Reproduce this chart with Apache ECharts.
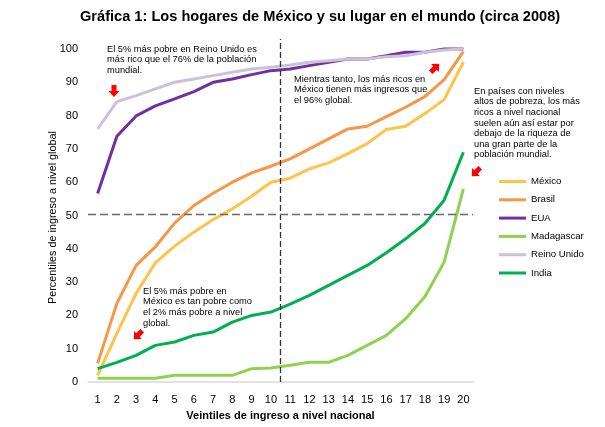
<!DOCTYPE html>
<html>
	<head>
		<meta charset="utf-8">
		<title></title>
		<script src="https://cdn.jsdelivr.net/npm/echarts@6/dist/echarts.min.js"></script>
	</head>
	<body style="margin: 0;">
		<div id="main" style="width: 605px;height:427px;"></div>
		<script>
			var veintiles = [1, 2, 3, 4, 5, 6, 7, 8, 9, 10, 11, 12, 13, 14, 15, 16, 17, 18, 19, 20];
			var yTicks = [0, 10, 20, 30, 40, 50, 60, 70, 80, 90, 100];

			var mexico = [2, 14.6, 26.6, 35.8, 40.8, 45, 48.8, 52, 55.8, 60, 61.2, 64, 65.8, 68.6, 71.6, 75.8, 76.8, 80.6, 84.8, 96];
			var brasil = [5.6, 23.6, 35, 40.6, 47.7, 53, 56.7, 60, 62.8, 64.8, 67, 70, 73, 76, 76.8, 79.7, 82.5, 85.7, 90.8, 99.2];
			var eua = [56.6, 73.8, 79.9, 82.9, 85, 87.2, 90, 91, 92.3, 93.5, 94, 95, 96, 97, 97, 98, 99, 99, 100, 100];
			var madagascar = [1.1, 1.1, 1.1, 1.1, 2, 2, 2, 2, 4, 4.2, 5, 5.9, 5.9, 8, 11, 14, 19, 25.6, 36, 58];
			var reinoUnido = [76, 84.2, 86, 88, 90, 91, 92, 93, 94, 94.5, 95.2, 96, 96.5, 97, 97, 97.7, 98, 99, 99.7, 100];
			var india = [4, 5.9, 8, 11, 12, 14, 15, 18, 20, 21, 23.4, 26, 29, 32, 35, 38.8, 43, 47.6, 54.6, 69];

			// lineas de referencia: entre veintil 10 y 11, y percentil ~50
			var refX = 10.5;
			var refY = 50.5;

			var myChart = echarts.init(document.getElementById('main'));

			function pares(vals) {
				return vals.map(function(v, i) {
					return [veintiles[i], v];
				});
			}

			function serie(name, vals, color) {
				return {
					name: name,
					type: 'line',
					symbol: 'none',
					data: pares(vals),
					lineStyle: { width: 3, color: color },
					itemStyle: { color: color },
					z: 3
				};
			}

			var fuente = 'Liberation Sans';
			var notaStyle = { font: '9.3px "Liberation Sans"', fill: '#000', lineHeight: 10.6 };

			function flecha(x, y, rot) {
				return {
					type: 'polygon',
					x: x,
					y: y,
					rotation: rot,
					shape: { points: [[-2.5, -6], [2.5, -6], [2.5, 0], [5.5, 0], [0, 6], [-5.5, 0], [-2.5, 0]] },
					style: { fill: '#ff0000' },
					z: 10
				};
			}

			var series = [
				serie('México', mexico, '#FFC24A'),
				serie('Brasil', brasil, '#F79646'),
				serie('EUA', eua, '#7030A0'),
				serie('Madagascar', madagascar, '#92D050'),
				serie('Reino Unido', reinoUnido, '#CCC1DA'),
				serie('India', india, '#00B050')
			];
			series[0].markLine = {
				silent: true,
				symbol: 'none',
				label: { show: false },
				data: [
					{ xAxis: refX, lineStyle: { color: '#333', type: [6, 3], width: 1.3 } },
					{ yAxis: refY, lineStyle: { color: '#666', type: [8, 4], width: 1.3 } }
				]
			};

			var option = {
				backgroundColor: '#fff',
				title: {
					text: 'Gráfica 1: Los hogares de México y su lugar en el mundo (circa 2008)',
					left: 75,
					top: 4,
					textStyle: { fontFamily: fuente, fontSize: 14.6, fontWeight: 'bold', color: '#000' }
				},
				legend: {
					orient: 'vertical',
					left: 499,
					top: 175,
					padding: 0,
					itemWidth: 27,
					itemHeight: 3,
					itemGap: 5.3,
					icon: 'rect',
					textStyle: { fontFamily: fuente, fontSize: 9.6, color: '#000', lineHeight: 13 },
					data: ['México', 'Brasil', 'EUA', 'Madagascar', 'Reino Unido', 'India']
				},
				grid: {
					left: 88,
					right: 132,
					top: 39,
					bottom: 45
				},
				xAxis: {
					type: 'value',
					min: 0.5,
					max: 20.5,
					name: 'Veintiles de ingreso a nivel nacional',
					nameLocation: 'middle',
					nameGap: 28,
					nameMoveOverlap: false,
					nameTextStyle: { fontFamily: fuente, fontSize: 11, fontWeight: 'bold', color: '#000' },
					axisLine: { lineStyle: { color: '#d9d9d9', width: 1.5 } },
					axisTick: { show: false },
					splitLine: { show: false },
					axisLabel: {
						customValues: veintiles,
						margin: 12,
						fontFamily: fuente,
						fontSize: 11,
						color: '#000'
					}
				},
				yAxis: {
					type: 'value',
					min: 0,
					max: 103,
					name: 'Percentiles de ingreso a nivel global',
					nameLocation: 'middle',
					nameGap: 29,
					nameMoveOverlap: false,
					nameTextStyle: { fontFamily: fuente, fontSize: 10.8, color: '#000', padding: [0, 14, 0, 0] },
					axisLine: { show: false },
					axisTick: { show: false },
					splitLine: { show: false },
					axisLabel: {
						customValues: yTicks,
						margin: 10,
						fontFamily: fuente,
						fontSize: 11,
						color: '#000'
					}
				},
				graphic: [
					{
						type: 'text', left: 107, top: 44,
						style: Object.assign({ text: 'El 5% más pobre en Reino Unido es\nmás rico que el 76% de la población\nmundial.' }, notaStyle)
					},
					{
						type: 'text', left: 294, top: 74,
						style: Object.assign({ text: 'Mientras tanto, los más ricos en\nMéxico tienen más ingresos que\nel 96% global.' }, notaStyle)
					},
					{
						type: 'text', left: 474, top: 86,
						style: Object.assign({ text: 'En países con niveles\naltos de pobreza, los más\nricos a nivel nacional\nsuelen aún así estar por\ndebajo de la riqueza de\nuna gran parte de la\npoblación mundial.' }, notaStyle)
					},
					{
						type: 'text', left: 143, top: 286,
						style: Object.assign({ text: 'El 5% más pobre en\nMéxico es tan pobre como\nel 2% más pobre a nivel\nglobal.' }, notaStyle)
					},
					flecha(114, 91, 0),
					flecha(435, 68, 3 * Math.PI / 4),
					flecha(476, 172, -Math.PI / 4),
					flecha(138, 335, -Math.PI / 4)
				],
				series: series
			};

			myChart.setOption(option);
		</script>
	</body>
</html>
